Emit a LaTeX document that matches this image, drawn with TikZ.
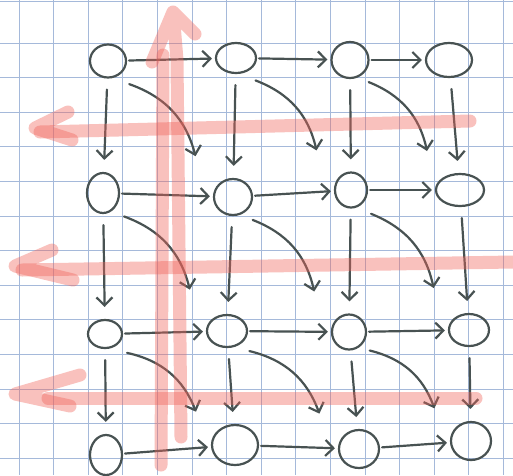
\documentclass[tikz,border=0pt]{standalone}
\usetikzlibrary{shapes.geometric,arrows.meta,calc}
\definecolor{gridc}{RGB}{165,185,218}
\definecolor{ink}{RGB}{72,82,82}
\definecolor{redc}{RGB}{240,100,90}
\begin{document}
\begin{tikzpicture}[x=1pt,y=-1pt,
  gridline/.style={draw=gridc,line width=0.9pt},
  blob/.style={ellipse,draw=ink,line width=2.2pt,inner sep=0pt},
  inkarrow/.style={draw=ink,line width=2.2pt,line cap=round,-{Straight Barb[length=8pt,width=16pt]}},
  rightarr/.style={inkarrow,shorten <=2pt,shorten >=3pt},
  downarr/.style={inkarrow,shorten <=11pt,shorten >=12pt},
  diagarr/.style={inkarrow,bend left=28},
  redstroke/.style={draw=redc,line width=13pt,line cap=round,line join=round,opacity=0.4}]
\useasboundingbox (0,0) rectangle (513,475);
\fill[white] (0,0) rectangle (513,475);
% grid paper
\foreach \i in {0,...,14} \draw[gridline] ({19+34.6*\i},0) -- ({19+34.6*\i},475);
\foreach \i in {0,...,12} \draw[gridline] (0,{43+34.6*\i}) -- (513,{43+34.6*\i});
\draw[gridline] (0,1) -- (513,1);
% nodes
\node[blob,minimum width=36pt,minimum height=33pt] (n00) at (108,61) {};
\node[blob,minimum width=40pt,minimum height=30pt] (n01) at (236,58) {};
\node[blob,minimum width=37pt,minimum height=36pt] (n02) at (350,60) {};
\node[blob,minimum width=46pt,minimum height=34pt] (n03) at (449,60) {};
\node[blob,minimum width=32pt,minimum height=40pt] (n10) at (103,193) {};
\node[blob,minimum width=38pt,minimum height=36pt] (n11) at (233,197) {};
\node[blob,minimum width=32pt,minimum height=35pt] (n12) at (351,190) {};
\node[blob,minimum width=48pt,minimum height=32pt] (n13) at (460,190) {};
\node[blob,minimum width=34pt,minimum height=28pt] (n20) at (105,334) {};
\node[blob,minimum width=40pt,minimum height=32pt] (n21) at (227,331) {};
\node[blob,minimum width=34pt,minimum height=35pt] (n22) at (349,332) {};
\node[blob,minimum width=40pt,minimum height=32pt] (n23) at (469,330) {};
\node[blob,minimum width=32pt,minimum height=40pt] (n30) at (106,455) {};
\node[blob,minimum width=46pt,minimum height=40pt] (n31) at (235,445) {};
\node[blob,minimum width=40pt,minimum height=38pt] (n32) at (359,449) {};
\node[blob,minimum width=40pt,minimum height=38pt] (n33) at (471,441) {};
% right arrows
\foreach \r in {0,1,2,3}{
  \draw[rightarr] (n\r0) -- (n\r1);
  \draw[rightarr] (n\r1) -- (n\r2);
  \draw[rightarr] (n\r2) -- (n\r3);
}
% down arrows
\foreach \c in {0,1,2,3}{
  \draw[downarr] (n0\c) -- (n1\c);
  \draw[downarr] (n1\c) -- (n2\c);
  \draw[downarr] (n2\c) -- (n3\c);
}
% diagonal arrows
\foreach \r/\s in {0/1,1/2,2/3}{
  \foreach \c/\d in {0/1,1/2,2/3}{
    \draw[diagarr] ($(n\r\c)!0.17!(n\s\d)$) to ($(n\r\c)!0.7!(n\s\d)$);
  }
}
% red overlay arrows
\draw[redstroke] (161,465) -- (163,55);
\draw[redstroke] (181,437) -- (177,60) -- (173,12) -- (195,34) (173,12) -- (152,62);
\draw[redstroke] (470,121) -- (40,132);
\draw[redstroke] (68,112) -- (35,128) -- (72,140);
\draw[redstroke] (513,262) -- (22,270);
\draw[redstroke] (52,250) -- (15,266) -- (73,280);
\draw[redstroke] (476,398) -- (48,398);
\draw[redstroke] (80,375) -- (15,394) -- (70,406);
\end{tikzpicture}
\end{document}
